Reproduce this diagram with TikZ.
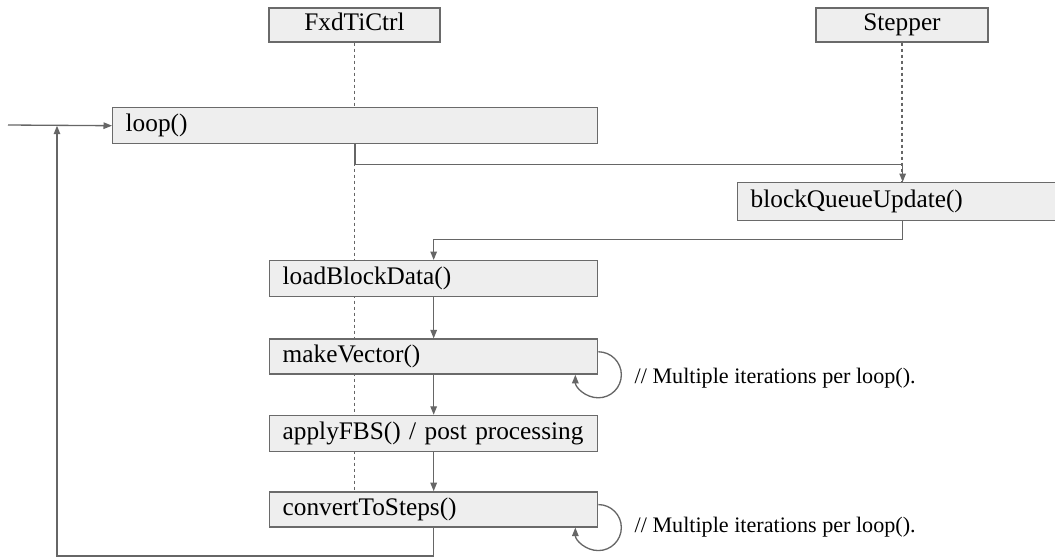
\documentclass[tikz,border=0pt]{standalone}
\usepackage{fontspec}
\setmainfont{Liberation Serif}
\usetikzlibrary{arrows.meta,positioning,backgrounds}
\definecolor{SeqLine}{HTML}{666666}
\definecolor{SeqBorder}{HTML}{6A6A6A}
\definecolor{SeqFill}{HTML}{EEEEEE}
\begin{document}
\begin{tikzpicture}[x=0.02cm,y=-0.02cm,
    head/.style={draw=SeqBorder,fill=SeqFill,line width=0.8pt,minimum width=3.42cm,minimum height=0.68cm,text height=2ex,text depth=0.6ex,font=\fontsize{14.4}{17}\selectfont},
    call/.style={draw=SeqBorder,fill=SeqFill,line width=0.8pt,minimum height=0.72cm,inner xsep=0.26cm,align=left,text width=6.04cm,font=\fontsize{14.4}{17}\selectfont},
    flow/.style={-{Triangle[length=1.7mm,width=1.3mm]},draw=SeqLine,line width=0.75pt},
    lifeline/.style={draw=SeqLine,line width=1pt,dash pattern=on 0.075cm off 0.045cm},
    note/.style={font=\fontsize{12.6}{15}\selectfont,inner sep=0pt}]
  \useasboundingbox (0,0) rectangle (1055,558);
  % participants
  \node[head] (fxd) at (354.5,25) {FxdTiCtrl};
  \node[head,minimum width=3.44cm] (stp) at (902,25) {Stepper};
  % calls
  \node[call,anchor=north west,text width=9.18cm] (loopf) at (112,107) {loop()};
  \node[call,anchor=north west,text width=6.08cm,minimum height=0.76cm] (bqu) at (737,182) {blockQueueUpdate()};
  \node[call,anchor=north west] (lbd) at (269,260) {loadBlockData()};
  \node[call,below=0.82cm of lbd,minimum height=0.7cm] (mkv) {makeVector()};
  \node[call,below=0.8cm of mkv] (fbs) {applyFBS() / post processing};
  \node[call,below=0.78cm of fbs,minimum height=0.7cm] (cts) {convertToSteps()};
  \node[note,right=0.72cm of mkv.south east,yshift=-0.06cm] (note1) {// Multiple iterations per loop().};
  \node[note,right=0.72cm of cts.south east] (note2) {// Multiple iterations per loop().};
  \begin{pgfonlayer}{background}
    \draw[lifeline] (fxd.south) -- (fxd.south |- cts.north);
    \draw[lifeline] (stp.south) -- (stp.south |- bqu.north);
  \end{pgfonlayer}
  % messages
  \coordinate (entry) at (8,125);
  \coordinate (back) at (57,556);
  \draw[flow] (entry) -- (loopf.west);
  \draw[flow] (loopf.south) -- ++(0,20) -| (bqu.north);
  \draw[flow] (bqu.south) -- ++(0,18) -| (lbd.north);
  \draw[flow] (lbd) -- (mkv);
  \draw[flow] (mkv) -- (fbs);
  \draw[flow] (fbs) -- (cts);
  \draw[flow] (cts.south) |- (back) -- (back |- loopf.west);
  % self calls
  \draw[flow] (mkv.south east) ++(0,-23) arc[start angle=-90,end angle=180,radius=23];
  \draw[flow] (cts.south east) ++(0,-23) arc[start angle=-90,end angle=180,radius=23];
\end{tikzpicture}
\end{document}
